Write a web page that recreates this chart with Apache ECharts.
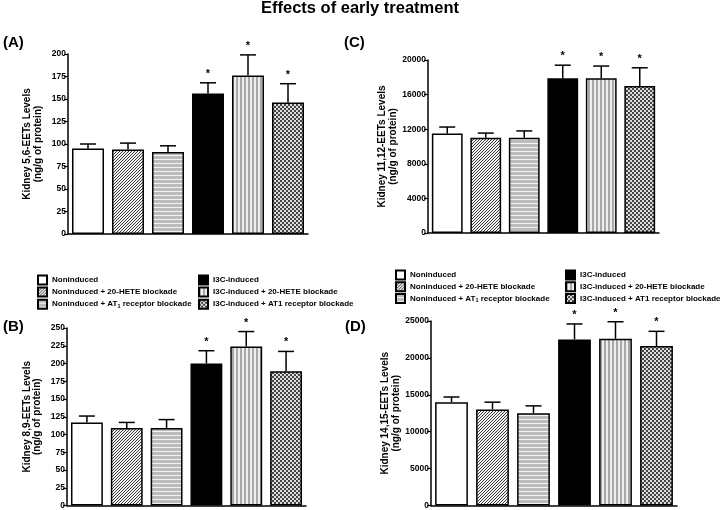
<!DOCTYPE html>
<html>
<head>
<meta charset="utf-8">
<script src="https://cdn.jsdelivr.net/npm/echarts@6/dist/echarts.min.js"></script>
<style>html,body{margin:0;padding:0;background:#fff}#c{width:720px;height:510px}</style>
</head>
<body>
<div id="c"></div>
<script>
const categories = ['Noninduced', 'Noninduced + 20-HETE blockade', 'Noninduced + AT1 receptor blockade',
  'I3C-induced', 'I3C-induced + 20-HETE blockade', 'I3C-induced + AT1 receptor blockade'];
const significant = [false, false, false, true, true, true];

const meanA = [95, 94, 91, 156, 176, 146];
const semA  = [5, 7, 7, 12, 23, 21];
const meanB = [117, 109, 109, 200, 224, 189];
const semB  = [9, 8, 12, 18, 21, 28];
const meanC = [11500, 11000, 11000, 17900, 17900, 17000];
const semC  = [750, 550, 800, 1500, 1400, 2100];
const meanD = [14000, 13000, 12500, 22500, 22600, 21600];
const semD  = [700, 1000, 1000, 2100, 2300, 2000];

const axisNameA = 'Kidney 5,6-EETs Levels\n(ng/g of protein)';
const axisNameB = 'Kidney 8,9-EETs Levels\n(ng/g of protein)';
const axisNameC = 'Kidney 11,12-EETs Levels\n(ng/g of protein)';
const axisNameD = 'Kidney 14,15-EETs Levels\n(ng/g of protein)';

const FONT = 'Liberation Sans';

function makePattern(kind) {
  const c = document.createElement('canvas');
  const s = kind === 'diag' ? 3 : 4;
  c.width = s; c.height = s;
  const ctx = c.getContext('2d');
  for (let x = 0; x < s; x++) {
    for (let y = 0; y < s; y++) {
      let col = '#ffffff';
      if (kind === 'diag') col = ((x + y) % 3 === 0) ? '#3a3a3a' : '#f2f2f2';
      if (kind === 'hor') col = (y % 4 < 3) ? '#bcbcbc' : '#f4f4f4';
      if (kind === 'ver') col = (x % 4 < 2) ? '#a8a8a8' : '#eeeeee';
      if (kind === 'chk') col = ((Math.floor(x / 2) + Math.floor(y / 2)) % 2 === 0) ? '#444444' : '#dddddd';
      ctx.fillStyle = col;
      ctx.fillRect(x, y, 1, 1);
    }
  }
  return { image: c, repeat: 'repeat' };
}

const fills = ['#ffffff', makePattern('diag'), makePattern('hor'), '#000000', makePattern('ver'), makePattern('chk')];

const panels = [
  { mean: meanA, sem: semA, name: axisNameA, max: 200, interval: 25, grid: { left: 68, top: 54, width: 240, height: 180 }, gap: 25 },
  { mean: meanB, sem: semB, name: axisNameB, max: 250, interval: 25, grid: { left: 67, top: 328, width: 239, height: 178 }, gap: 24.5 },
  { mean: meanC, sem: semC, name: axisNameC, max: 20000, interval: 4000, grid: { left: 428, top: 60, width: 231, height: 173 }, gap: 27 },
  { mean: meanD, sem: semD, name: axisNameD, max: 25000, interval: 5000, grid: { left: 431, top: 321, width: 246, height: 185 }, gap: 25 }
];

const grids = [], xAxes = [], yAxes = [], series = [];
panels.forEach((p, g) => {
  grids.push(Object.assign({}, p.grid));
  xAxes.push({
    type: 'category', gridIndex: g, data: categories,
    axisLine: { lineStyle: { color: '#000', width: 1.5 } },
    axisTick: { show: false }, axisLabel: { show: false }
  });
  yAxes.push({
    type: 'value', gridIndex: g, min: 0, max: p.max, interval: p.interval,
    name: p.name, nameLocation: 'middle', nameRotate: 90, nameGap: p.gap,
    nameTextStyle: { fontFamily: FONT, fontWeight: 'bold', fontSize: 10, color: '#000', lineHeight: 10.5 },
    axisLine: { show: true, lineStyle: { color: '#000', width: 1.5 } },
    axisTick: { show: true, length: 4, lineStyle: { color: '#000', width: 1.2 } },
    axisLabel: { fontFamily: FONT, fontWeight: 'bold', fontSize: 8.5, color: '#000', margin: 2,
      formatter: function (v) { return String(v); } },
    splitLine: { show: false }
  });
  categories.forEach((cat, i) => {
    series.push({
      type: 'bar', name: cat, xAxisIndex: g, yAxisIndex: g,
      data: categories.map((_, j) => j === i ? p.mean[i] : '-'),
      barWidth: '80%', barGap: '-100%',
      itemStyle: { color: fills[i], borderColor: '#000', borderWidth: 1.5 },
      emphasis: { disabled: true }, animation: false
    });
  });
  series.push({
    type: 'custom', xAxisIndex: g, yAxisIndex: g, z: 5, animation: false,
    data: p.mean.map((v, i) => [i, v, p.sem[i], significant[i] ? 1 : 0]),
    encode: { x: 0, y: 1 },
    renderItem: function (params, api) {
      const x = api.value(0), v = api.value(1), e = api.value(2), sig = api.value(3);
      const p0 = api.coord([x, v]);
      const p1 = api.coord([x, v + e]);
      const children = [
        { type: 'line', shape: { x1: p0[0], y1: p0[1], x2: p1[0], y2: p1[1] }, style: { stroke: '#000', lineWidth: 1.5 } },
        { type: 'line', shape: { x1: p1[0] - 8, y1: p1[1], x2: p1[0] + 8, y2: p1[1] }, style: { stroke: '#000', lineWidth: 1.5 } }
      ];
      if (sig) {
        children.push({ type: 'text', style: { text: '*', x: p1[0], y: p1[1] - 9, align: 'center', verticalAlign: 'middle',
          fill: '#000', font: 'bold 11px "' + FONT + '"' } });
      }
      return { type: 'group', children: children };
    }
  });
});

function legend(left, top, names, gap) {
  return {
    left: left, top: top, orient: 'vertical', padding: 0, itemGap: gap,
    itemWidth: 9, itemHeight: 9, icon: 'rect', selectedMode: false,
    data: names,
    formatter: function (n) {
      if (n === 'Noninduced + AT1 receptor blockade') return '{a|Noninduced + AT}{s|1}{a| receptor blockade}';
      return '{a|' + n + '}';
    },
    textStyle: {
      color: '#000', fontFamily: FONT, fontWeight: 'bold', fontSize: 8,
      rich: {
        a: { fontFamily: FONT, fontWeight: 'bold', fontSize: 8, color: '#000' },
        s: { fontFamily: FONT, fontWeight: 'bold', fontSize: 5.5, color: '#000', verticalAlign: 'bottom', padding: [4, 0, 0, 0] }
      }
    }
  };
}

const col1 = categories.slice(0, 3), col2 = categories.slice(3);
const option = {
  backgroundColor: '#fff',
  animation: false,
  title: [
    { text: 'Effects of early treatment', left: 'center', top: 0, padding: 0,
      textStyle: { fontFamily: FONT, fontWeight: 'bold', fontSize: 16.5, color: '#000' } },
    { text: '(A)', left: 3, top: 35, padding: 0, textStyle: { fontFamily: FONT, fontWeight: 'bold', fontSize: 15, color: '#000' } },
    { text: '(C)', left: 344, top: 35, padding: 0, textStyle: { fontFamily: FONT, fontWeight: 'bold', fontSize: 15, color: '#000' } },
    { text: '(B)', left: 3, top: 319, padding: 0, textStyle: { fontFamily: FONT, fontWeight: 'bold', fontSize: 15, color: '#000' } },
    { text: '(D)', left: 345, top: 319, padding: 0, textStyle: { fontFamily: FONT, fontWeight: 'bold', fontSize: 15, color: '#000' } }
  ],
  legend: [
    legend(37, 274.5, col1, 1.1), legend(198, 274.5, col2, 1.1),
    legend(395, 269.5, col1, 0.8), legend(565, 269.5, col2, 0.8)
  ],
  grid: grids, xAxis: xAxes, yAxis: yAxes, series: series
};

const chart = echarts.init(document.getElementById('c'), null, { renderer: 'canvas' });
chart.setOption(option);
</script>
</body>
</html>
